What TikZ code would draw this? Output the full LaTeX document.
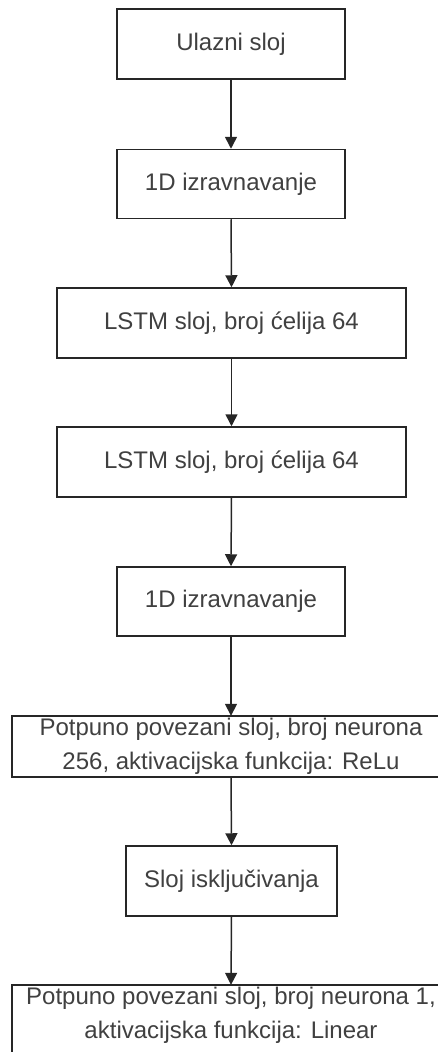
\documentclass[tikz,border=0pt]{standalone}
\usepackage{fontspec}
\setmainfont{Liberation Sans}
\usetikzlibrary{arrows.meta}
\begin{document}
\begin{tikzpicture}[x=1pt,y=-1pt,
  boxline/.style={draw=black!85,line width=1.5pt},
  layer/.style={boxline,fill=white,rectangle,inner sep=0pt,
    align=center,text=black!75,font=\fontsize{24}{34}\selectfont},
  widelayer/.style={rectangle,inner sep=0pt,minimum width=300pt,minimum height=61pt,
    align=center,text=black!75,font=\fontsize{24}{34}\selectfont},
  conn/.style={draw=black!85,line width=1.5pt,-{Triangle[length=12pt,width=12pt]}}]
\useasboundingbox (0,0) rectangle (438,1052);
\clip (0,0) rectangle (438,1052);
\node[layer,minimum width=228pt,minimum height=70pt] (n1) at (231,44) {Ulazni sloj};
\node[layer,minimum width=228pt,minimum height=69pt] (n2) at (231,184) {1D izravnavanje};
\node[layer,minimum width=349pt,minimum height=70pt] (n3) at (231.5,323) {LSTM sloj, broj ćelija 64};
\node[layer,minimum width=349pt,minimum height=70pt] (n4) at (231.5,462) {LSTM sloj, broj ćelija 64};
\node[layer,minimum width=228pt,minimum height=69pt] (n5) at (231,601.5) {1D izravnavanje};
\draw[boxline] (12,716) rectangle (480,777);
\node[widelayer] (n6) at (231,746.5) {Potpuno povezani sloj, broj neurona\\256, aktivacijska funkcija: ReLu};
\node[layer,minimum width=211pt,minimum height=70pt] (n7) at (231.5,881) {Sloj isključivanja};
\draw[boxline] (12,985) rectangle (480,1080);
\node[widelayer] (n8) at (231,1015.5) {Potpuno povezani sloj, broj neurona 1,\\aktivacijska funkcija: Linear};
\draw[conn] (n1.south) -- (n2.north);
\draw[conn] (n2.south) -- (n3.north);
\draw[conn] (n3.south) -- (n4.north);
\draw[conn] (n4.south) -- (n5.north);
\draw[conn] (n5.south) -- (n6.north);
\draw[conn] (n6.south) -- (n7.north);
\draw[conn] (n7.south) -- (n8.north);
\end{tikzpicture}
\end{document}
